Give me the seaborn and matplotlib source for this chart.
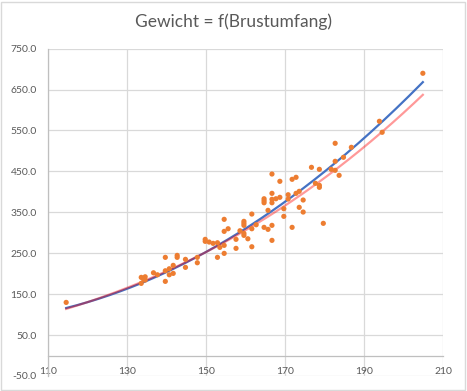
import numpy as np
import pandas as pd
import matplotlib
matplotlib.use("Agg")
import matplotlib.pyplot as plt
from matplotlib.patches import Rectangle
import seaborn as sns

brustumfang = [
    114.6, 133.6, 133.6, 134.1, 134.6, 134.6, 136.7, 137.7, 139.7, 139.7,
    139.7, 140.7, 140.7, 141.7, 141.7, 142.7, 142.7, 144.8, 144.8, 147.8,
    147.8, 149.8, 149.8, 150.8, 151.8, 152.9, 152.9, 153.5, 154.6, 154.6,
    154.6, 154.6, 155.6, 157.6, 157.6, 158.6, 159.6, 159.6, 159.6, 159.6,
    159.6, 160.6, 161.6, 161.6, 161.6, 162.7, 164.7, 164.7, 164.7, 164.7,
    165.7, 165.7, 166.7, 166.7, 166.7, 166.7, 166.7, 166.7, 167.7, 168.7,
    168.7, 169.7, 169.7, 170.8, 170.8, 171.8, 171.8, 172.8, 172.8, 173.6,
    173.6, 174.6, 174.6, 176.7, 177.7, 178.7, 178.7, 178.7, 179.7, 181.7,
    182.7, 182.7, 182.7, 183.7, 184.8, 186.8, 193.9, 194.6, 204.9,
]
gewicht = [
    129.8, 176.3, 191.0, 187.5, 192.4, 184.4, 202.2, 197.3, 239.9, 207.1,
    181.2, 212.0, 197.3, 220.3, 200.7, 244.7, 239.9, 235.0, 215.4, 239.9,
    226.7, 283.9, 279.0, 277.3, 274.1, 275.6, 239.9, 264.3, 332.8, 303.4,
    269.2, 249.6, 309.8, 283.9, 261.9, 304.9, 327.9, 323.0, 318.1, 298.5,
    293.6, 285.3, 345.7, 309.8, 265.8, 319.6, 383.1, 378.2, 373.3, 313.2,
    354.8, 308.3, 443.5, 396.3, 381.7, 373.3, 318.1, 281.4, 383.1, 425.7,
    386.6, 358.7, 340.1, 392.9, 382.4, 430.6, 313.2, 435.5, 396.3, 401.2,
    362.1, 380.0, 350.6, 459.9, 420.8, 455.0, 415.9, 411.0, 323.0, 455.0,
    518.6, 474.6, 452.6, 440.3, 484.4, 508.8, 572.4, 545.5, 689.7,
]

x_ticks = [110, 130, 150, 170, 190, 210]
y_ticks = [-50, 50, 150, 250, 350, 450, 550, 650, 750]

# Trendlinien (Koeffizienten)
poly_coef = [0.04087, -6.945, 375.2]                 # Polynom 2. Ordnung
power_a, power_b = 115.0 / 115.0 ** 2.964, 2.964     # Potenz: a * x^b

df = pd.DataFrame({"Brustumfang": brustumfang, "Gewicht": gewicht})

xs = np.linspace(df["Brustumfang"].min(), df["Brustumfang"].max(), 200)
trend = pd.DataFrame({
    "x": xs,
    "poly": np.polyval(poly_coef, xs),
    "power": power_a * xs ** power_b,
})

plt.rcParams["font.family"] = ["Lato", "DejaVu Sans"]

fig = plt.figure(figsize=(4.67, 3.91), dpi=100)
ax = fig.add_axes([0.1028, 0.0384, 0.8458, 0.8373])

grid_c = "#d9d9d9"
text_c = "#595959"

sns.lineplot(data=trend, x="x", y="poly", ax=ax, color="#4472c4", lw=1.6, zorder=3)
sns.lineplot(data=trend, x="x", y="power", ax=ax, color="#ff0000", alpha=0.4, lw=1.6, zorder=4)
sns.scatterplot(data=df, x="Brustumfang", y="Gewicht", ax=ax, color="#ed7d31",
                s=14, edgecolor="none", zorder=5)

ax.set_xlim(110, 210)
ax.set_ylim(-50, 750)
ax.set_xticks(x_ticks)
ax.set_yticks(y_ticks)
ax.set_xticklabels([str(t) for t in x_ticks])
ax.set_yticklabels([f"{t:.1f}" for t in y_ticks])
ax.grid(True, color=grid_c, lw=0.9)
ax.set_axisbelow(True)
ax.set_xlabel("")
ax.set_ylabel("")

for s in ["top", "right"]:
    ax.spines[s].set_visible(False)
ax.spines["bottom"].set_position(("data", 0))
ax.spines["bottom"].set_color("#bfbfbf")
ax.spines["left"].set_color("#bfbfbf")
ax.spines["bottom"].set_linewidth(0.9)
ax.spines["left"].set_linewidth(0.9)

ax.tick_params(axis="both", length=0, colors=text_c, labelsize=7.5)
ax.tick_params(axis="x", pad=8)
ax.tick_params(axis="y", pad=8)

fig.text(0.5, 0.944, "Gewicht = f(Brustumfang)", ha="center", va="center",
         fontsize=12.5, color=text_c)

# Rahmen um das Diagramm
fig.add_artist(Rectangle((0.002, 0.003), 0.994, 0.993, transform=fig.transFigure,
                         fill=False, edgecolor=grid_c, lw=1))

fig.savefig("out.png", dpi=100)
